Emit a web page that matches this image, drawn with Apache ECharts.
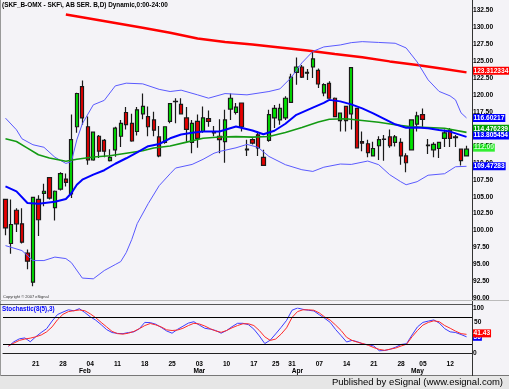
<!DOCTYPE html>
<html><head><meta charset="utf-8">
<script src="https://cdn.jsdelivr.net/npm/echarts@6/dist/echarts.min.js"></script>
<style>html,body{margin:0;padding:0;background:#f4f3f7;}#c{width:509px;height:389px;}</style>
</head><body><div id="c"></div>
<script>
const chartTitle = '(SKF_B-OMX - SKF\\, AB SER. B,D) Dynamic,0:00-24:00';
const stochTitle = 'Stochastic(8(5),3)';
// daily candles: [open, high, low, close]
const ohlc = [
[104.6,104.7,99.3,100.4],[98.1,104.6,96.6,100.9],[103.0,103.3,99.8,101.0],[101.0,103.3,98.1,98.3],[96.7,97.2,94.3,95.5],
[92.4,105.0,91.8,104.9],[104.6,105.2,99.2,101.6],[105.5,106.9,103.6,105.8],[107.8,107.8,104.6,104.8],[103.4,105.9,101.5,105.8],
[106.1,108.6,105.9,108.4],[107.6,108.4,106.5,107.1],[105.4,117.1,104.8,113.4],[115.3,120.3,114.4,120.2],[121.2,122.1,115.6,116.6],
[115.3,116.8,109.7,110.4],[110.4,114.6,110.3,114.5],[113.9,114.1,110.7,111.7],[113.3,113.5,110.8,111.7],[110.3,112.0,110.2,110.8],
[111.9,115.3,110.9,115.1],[113.9,116.3,112.3,115.8],[117.4,118.2,114.9,115.6],[115.8,117.2,113.1,113.2],[114.6,118.2,114.0,117.8],
[117.2,120.2,116.4,118.3],[116.8,118.3,113.9,115.3],[116.3,117.5,113.9,114.8],[113.8,115.4,110.8,111.0],[113.0,115.3,112.8,115.3],
[116.1,118.8,115.8,118.7],[119.0,119.5,115.8,119.05],[118.6,119.5,117.1,117.2],[116.6,118.2,113.1,114.9],[113.0,116.3,111.4,115.8],
[116.1,117.1,112.2,113.6],[114.6,118.3,114.4,116.6],[116.5,117.7,115.3,116.1],[114.6,115.4,113.9,114.4],[113.9,116.4,111.4,113.4],
[113.1,117.8,110.0,116.3],[117.9,120.2,116.3,119.5],[117.4,118.8,117.1,118.2],[118.8,118.8,114.6,115.3],[111.9,113.4,111.0,112.0],
[113.4,113.6,112.7,112.9],[114.1,114.6,111.0,112.2],[110.8,111.9,109.6,109.6],[113.3,117.8,113.1,117.1],[116.6,118.5,115.1,118.0],
[116.3,118.7,115.6,118.0],[116.6,119.8,116.3,119.5],[118.9,123.1,118.8,122.6],[123.3,125.5,121.5,124.1],[124.1,124.4,122.5,122.6],
[123.2,123.8,122.2,123.3],[124.1,126.4,122.5,125.3],[123.6,123.9,121.0,121.6],[120.3,121.7,119.8,121.5],[121.7,122.0,119.5,119.5],
[119.5,119.6,116.7,116.8],[116.2,117.3,114.6,117.3],[118.3,118.4,114.6,116.2],[117.2,124.0,114.9,124.0],[118.0,118.1,112.1,112.2],
[113.1,114.6,111.7,112.9],[112.8,113.4,110.8,111.5],[111.0,113.1,111.0,112.1],[112.5,113.9,110.4,113.4],[113.45,114.1,110.3,113.5],
[113.8,114.9,112.2,112.5],[113.0,114.1,112.4,113.8],[113.0,113.6,109.7,111.0],[111.0,111.4,108.6,110.0],[111.9,116.3,111.9,116.3],
[115.7,117.5,114.6,116.9],[117.1,118.0,115.3,116.4],[112.5,113.5,111.3,112.6],[111.9,113.0,110.8,112.7],[112.1,113.1,110.7,113.0],
[113.6,114.9,112.3,114.4],[114.8,115.1,112.3,113.6],[113.8,114.1,112.3,113.7],[112.0,112.0,109.6,110.3],[111.0,112.5,111.0,112.00]
];
// overlay studies: [candle index, price]
const longMA = [[11,131.84],[15,131.28],[20,130.57],[25,129.87],[30,129.15],[35,128.31],[40,127.79],[45,127.43],[50,126.99],[55,126.54],[60,126.03],[65,125.54],[70,124.93],[75,124.41],[80,123.82],[84,123.312334]];
const upperBand = [[0,116.57],[2,114.85],[3,113.53],[5,112.65],[7,112.28],[9,110.81],[11,109.9],[12,110.15],[13,113.38],[14,115.74],[16,118.53],[18,119.19],[20,121.32],[22,121.72],[25,121.62],[28,120.81],[30,120.49],[32,120.69],[35,120.0],[37,119.51],[40,120.19],[44,120.0],[48,120.49],[50,120.88],[52,122.5],[54,124.71],[56,126.4],[58,127.06],[61,127.35],[63,127.69],[65,127.84],[68,127.72],[71,127.6],[73,126.91],[75,124.85],[77,122.21],[79,120.51],[81,119.85],[82,119.26],[83,117.35],[84,116.60217]];
const midBand = [[0,106.51],[2,105.78],[4,104.07],[6,103.97],[9,104.26],[11,104.66],[12,105.51],[13,106.76],[14,107.5],[16,108.24],[18,108.9],[20,109.85],[22,110.66],[24,111.54],[26,112.43],[28,112.76],[30,113.6],[32,114.15],[34,114.41],[36,114.6],[39,114.6],[42,115.34],[45,114.75],[47,114.19],[49,114.71],[51,115.74],[53,117.06],[56,118.13],[58,118.82],[59,119.26],[61,119.04],[63,118.6],[65,118.01],[67,117.28],[69,116.47],[71,115.66],[73,115.15],[75,115.18],[77,115.07],[79,114.81],[81,114.59],[84,113.805454]];
const lowerBand = [[0,97.79],[3,97.06],[5,95.59],[7,95.59],[9,96.1],[11,95.88],[12,95.29],[14,93.01],[16,92.9],[18,94.12],[20,95.0],[21,95.44],[22,96.76],[23,98.68],[24,101.03],[26,103.97],[28,106.62],[30,108.38],[31,109.22],[34,109.75],[36,110.5],[38,111.4],[39,111.66],[42,112.2],[44,112.7],[46,112.28],[48,110.93],[51,109.71],[54,108.97],[56,108.72],[58,109.34],[61,109.81],[63,109.75],[66,110.25],[68,109.71],[70,108.24],[72,107.21],[73,106.76],[75,107.21],[77,108.16],[80,108.38],[82,109.41],[84,109.47283]];
const greenMA = [[0,113.53],[2,113.13],[4,112.16],[6,111.18],[8,110.69],[11,110.22],[13,110.51],[16,110.84],[19,111.03],[22,111.4],[25,111.76],[27,112.18],[30,112.46],[33,113.04],[36,113.6],[39,113.79],[42,113.85],[45,113.78],[48,113.87],[51,114.46],[54,115.19],[57,115.99],[59,116.4],[62,116.47],[65,116.22],[68,115.96],[71,115.59],[74,115.29],[77,115.18],[80,115.07],[84,114.476239]];
// stochastic %K and %D, one per candle
const stochK = [14.8,25,31.5,33.5,25,36,45.5,54,71,85.5,91,96,93.7,98.5,90,80.5,73,63,52,45.5,43.5,43,45.5,47,54,68,67.5,64,57,49,44,52.5,59.5,66.5,69.5,62,55,53,50,44,50,58.5,66,66,63,53,38,21,28.5,42.5,57,72.5,95,100,97,95,93.5,85,77,68,52,38.5,24.5,28,25,19.8,18.5,15.5,5,5.6,8.4,13,18.9,20.7,40,58,68,71,73.5,66.5,54,47,45.5,41,36];
const stochD = [16,22,28,31,33,36,40,47,58,74,86,92,94,95.5,94,87,78.5,68,58,48,43,42,44,48,54,61,65.5,62.5,58,51.5,50,51,55,61,66,64.5,60,54,49,46,50,56,61,65,65,61,50,36,28,31,42,56,79,92,96,96,95,89,80,73,62,50,35,28,24,21,17,12,8,6,8.5,11,15.5,19.5,36,50,62,68,71.5,69.5,61,55,48.5,43,41.43];
const stochLevels = [80, 20];
const stochMidTick = 50;
// x-axis tick labels
const dayIdx = [5,10,15,20,25,30,35,40,45,49,52,57,62,67,72,76,81];
const dayLabels = ['21','28','04','11','18','25','03','10','17','25','31','07','14','21','28','05','12'];
const monthIdx = [14,35,53,75];
const monthLabels = ['Feb','Mar','Apr','May'];

const F = "'Liberation Sans',Arial,sans-serif";
const FS = 6.6;
const chart = echarts.init(document.getElementById('c'), null, {renderer:'canvas'});
const candleData = ohlc.map((d,i)=>[i,d[0],d[3],d[2],d[1]]);
const lastClose = [[ohlc.length-1, ohlc[ohlc.length-1][3]]];

function endLab(bg, dy){
  return {show:true, formatter:p=>String(p.value[1]), color:'#fff', backgroundColor:bg,
    fontSize:FS, fontWeight:'bold', fontFamily:F, padding:[1,1,0,1], distance:6, offset:[0,dy]};
}
function ovLine(data, color, width, bg, dy, z){
  return {type:'line', xAxisIndex:0, yAxisIndex:0, data, symbol:'none', z:z||3,
    lineStyle:{color, width}, endLabel:endLab(bg, dy)};
}
const lab = {fontSize:FS, fontWeight:'bold', fontFamily:F, color:'#000'};

chart.setOption({
  animation:false,
  backgroundColor:'#f4f3f7',
  grid:[{left:0,right:37,top:10,height:288.5},{left:0,right:37,top:308,height:45}],
  xAxis:[
    {gridIndex:0,type:'value',min:-1,max:85,interval:1,show:false},
    {gridIndex:1,type:'value',min:-1,max:85,interval:1,position:'bottom',offset:5,
      axisLine:{show:true,lineStyle:{color:'#222',width:1}},axisTick:{show:false},splitLine:{show:false},
      axisLabel:Object.assign({margin:2.5,formatter:v=>{const k=dayIdx.indexOf(v);return k>=0?dayLabels[k]:'';}},lab)},
    {gridIndex:1,type:'value',min:-1,max:85,interval:1,position:'bottom',offset:12.5,
      axisLine:{show:false},axisTick:{show:false},splitLine:{show:false},
      axisLabel:Object.assign({margin:2.5,formatter:v=>{const k=monthIdx.indexOf(v);return k>=0?monthLabels[k]:'';}},lab)}
  ],
  yAxis:[
    {gridIndex:0,type:'value',position:'right',min:90,max:132.5,interval:2.5,
      axisLine:{show:false},axisTick:{show:false},splitLine:{show:false},
      axisLabel:Object.assign({margin:1,formatter:v=>v.toFixed(2)},lab)},
    {gridIndex:1,type:'value',position:'right',min:0,max:100,interval:50,
      axisLine:{show:false},axisTick:{show:false},splitLine:{show:false},
      axisLabel:Object.assign({margin:1,formatter:v=>v===stochMidTick?'':String(v)},lab)}
  ],
  series:[
    {type:'candlestick',xAxisIndex:0,yAxisIndex:0,data:candleData,
      dimensions:['i','open','close','lowest','highest'],encode:{x:'i',y:['open','close','lowest','highest']},
      barWidth:3.8,z:2,
      itemStyle:{color:'#00e400',color0:'#e80000',borderColor:'#1a1a1a',borderColor0:'#1a1a1a',borderColorDoji:'#1a1a1a',borderWidth:1.2}},
    ovLine(longMA,'#ff0000',2.5,'#ff0000',-1.5),
    ovLine(upperBand,'#5a5aff',1,'#0000ff',0),
    ovLine(lowerBand,'#5a5aff',1,'#0000ff',0),
    ovLine(greenMA,'#139a13',1.6,'#00a000',-3.5),
    ovLine(midBand,'#0000ff',2,'#0000ff',-1.5,4),
    {type:'scatter',xAxisIndex:0,yAxisIndex:0,data:lastClose,symbolSize:0,z:6,
      label:{show:true,position:'right',distance:6.5,formatter:p=>p.value[1].toFixed(2),color:'#fff',backgroundColor:'#00ee00',
        fontSize:FS,fontWeight:'bold',fontFamily:F,padding:[1,1,0,1],offset:[0,-1.5]}},
    {type:'line',xAxisIndex:1,yAxisIndex:1,data:stochK.map((v,i)=>[i,v]),symbol:'none',z:3,
      lineStyle:{color:'#3c3cff',width:1},endLabel:endLab('#0000ff',0)},
    {type:'line',xAxisIndex:1,yAxisIndex:1,data:stochD.map((v,i)=>[i,v]),symbol:'none',z:4,
      lineStyle:{color:'#ff2a2a',width:1},endLabel:endLab('#ff0000',-1),
      markLine:{silent:true,symbol:'none',label:{show:false},lineStyle:{color:'#000',width:1,type:'solid'},
        data:stochLevels.map(v=>({yAxis:v}))}}
  ]
});
// the "50" scale label sits just above the value tags, as in the original
const y50 = chart.convertToPixel({yAxisIndex:1}, stochMidTick);
chart.setOption({graphic:[
  {type:'rect',shape:{x:0,y:376,width:509,height:13},style:{fill:'#e6e6e6'},z:100},
  {type:'line',shape:{x1:0,y1:375.5,x2:509,y2:375.5},style:{stroke:'#777',lineWidth:1},z:101},
  {type:'line',shape:{x1:0.5,y1:0,x2:0.5,y2:376},style:{stroke:'#999',lineWidth:1},z:101},
  {type:'line',shape:{x1:472.5,y1:0,x2:472.5,y2:376},style:{stroke:'#333',lineWidth:1},z:101},
  {type:'line',shape:{x1:0,y1:300.5,x2:509,y2:300.5},style:{stroke:'#bbb',lineWidth:1},z:101},
  {type:'line',shape:{x1:0,y1:304.5,x2:472,y2:304.5},style:{stroke:'#555',lineWidth:1},z:101},
  {type:'text',left:2,top:2,style:{text:chartTitle,fontSize:6.4,fontWeight:'bold',fontFamily:F,fill:'#000'},z:102},
  {type:'text',left:3,top:295,style:{text:'Copyright \u00a9 2007 eSignal',fontSize:4,fontFamily:F,fill:'#333'},z:102},
  {type:'text',left:2,top:306,style:{text:stochTitle,fontSize:6.3,fontWeight:'bold',fontFamily:F,fill:'#0000ff'},z:102},
  {type:'text',right:6,top:377,style:{text:'Published by eSignal (www.esignal.com)',fontSize:9.5,fontFamily:F,fill:'#000'},z:102},
  {type:'text',left:474,top:y50-12,style:{text:String(stochMidTick),fontSize:FS,fontWeight:'bold',fontFamily:F,fill:'#000'},z:102}
]});
</script></body></html>
